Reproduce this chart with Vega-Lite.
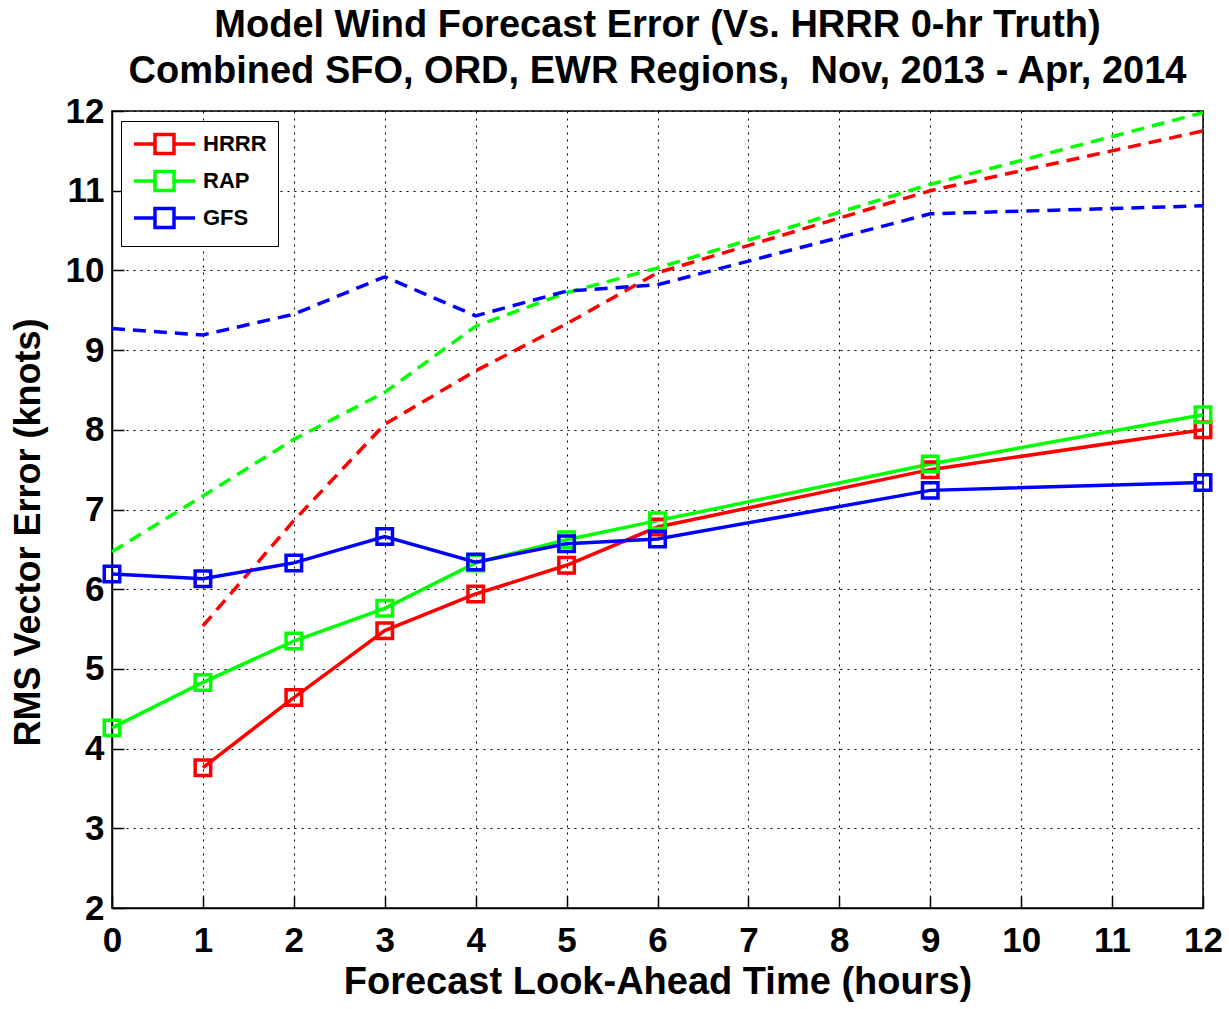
{
  "$schema": "https://vega.github.io/schema/vega-lite/v6.json",
  "width": 1091,
  "height": 797,
  "autosize": {"type": "none"},
  "padding": {"left": 112, "top": 111, "right": 26, "bottom": 101},
  "background": "white",
  "title": {
    "text": ["Model Wind Forecast Error (Vs. HRRR 0-hr Truth)", "Combined SFO, ORD, EWR Regions,\u00a0 Nov, 2013 - Apr, 2014"],
    "font": "Liberation Sans",
    "fontSize": 38,
    "fontWeight": "bold",
    "lineHeight": 46,
    "color": "black",
    "anchor": "middle",
    "offset": 3
  },
  "config": {
    "view": {"stroke": "black", "strokeWidth": 1.5},
    "axis": {
      "labelFont": "Liberation Sans",
      "titleFont": "Liberation Sans",
      "labelFontSize": 35,
      "labelFontWeight": "bold",
      "titleFontSize": 36,
      "titleFontWeight": "bold",
      "labelColor": "black",
      "titleColor": "black",
      "domainColor": "black",
      "domainWidth": 1.5,
      "tickColor": "black",
      "tickWidth": 1.5,
      "tickSize": -12,
      "gridColor": "black",
      "gridDash": [2, 5],
      "gridWidth": 1,
      "gridOpacity": 1
    },
    "legend": {
      "labelFont": "Liberation Sans",
      "labelFontSize": 22,
      "labelFontWeight": "bold",
      "labelColor": "black"
    }
  },
  "data": {
    "values": [
      {"model": "HRRR", "kind": "solid", "hour": 1, "rmse": 3.76},
      {"model": "HRRR", "kind": "solid", "hour": 2, "rmse": 4.64},
      {"model": "HRRR", "kind": "solid", "hour": 3, "rmse": 5.48},
      {"model": "HRRR", "kind": "solid", "hour": 4, "rmse": 5.94},
      {"model": "HRRR", "kind": "solid", "hour": 5, "rmse": 6.30},
      {"model": "HRRR", "kind": "solid", "hour": 6, "rmse": 6.78},
      {"model": "HRRR", "kind": "solid", "hour": 9, "rmse": 7.50},
      {"model": "HRRR", "kind": "solid", "hour": 12, "rmse": 8.00},
      {"model": "RAP", "kind": "solid", "hour": 0, "rmse": 4.26},
      {"model": "RAP", "kind": "solid", "hour": 1, "rmse": 4.83},
      {"model": "RAP", "kind": "solid", "hour": 2, "rmse": 5.35},
      {"model": "RAP", "kind": "solid", "hour": 3, "rmse": 5.76},
      {"model": "RAP", "kind": "solid", "hour": 4, "rmse": 6.33},
      {"model": "RAP", "kind": "solid", "hour": 5, "rmse": 6.62},
      {"model": "RAP", "kind": "solid", "hour": 6, "rmse": 6.86},
      {"model": "RAP", "kind": "solid", "hour": 9, "rmse": 7.57},
      {"model": "RAP", "kind": "solid", "hour": 12, "rmse": 8.19},
      {"model": "GFS", "kind": "solid", "hour": 0, "rmse": 6.19},
      {"model": "GFS", "kind": "solid", "hour": 1, "rmse": 6.13},
      {"model": "GFS", "kind": "solid", "hour": 2, "rmse": 6.33},
      {"model": "GFS", "kind": "solid", "hour": 3, "rmse": 6.66},
      {"model": "GFS", "kind": "solid", "hour": 4, "rmse": 6.34},
      {"model": "GFS", "kind": "solid", "hour": 5, "rmse": 6.57},
      {"model": "GFS", "kind": "solid", "hour": 6, "rmse": 6.63},
      {"model": "GFS", "kind": "solid", "hour": 9, "rmse": 7.24},
      {"model": "GFS", "kind": "solid", "hour": 12, "rmse": 7.34},
      {"model": "HRRR", "kind": "dashed", "hour": 1, "rmse": 5.54},
      {"model": "HRRR", "kind": "dashed", "hour": 2, "rmse": 6.86},
      {"model": "HRRR", "kind": "dashed", "hour": 3, "rmse": 8.07},
      {"model": "HRRR", "kind": "dashed", "hour": 4, "rmse": 8.74},
      {"model": "HRRR", "kind": "dashed", "hour": 5, "rmse": 9.33},
      {"model": "HRRR", "kind": "dashed", "hour": 6, "rmse": 9.97},
      {"model": "HRRR", "kind": "dashed", "hour": 9, "rmse": 11.00},
      {"model": "HRRR", "kind": "dashed", "hour": 12, "rmse": 11.75},
      {"model": "RAP", "kind": "dashed", "hour": 0, "rmse": 6.47},
      {"model": "RAP", "kind": "dashed", "hour": 1, "rmse": 7.17},
      {"model": "RAP", "kind": "dashed", "hour": 2, "rmse": 7.88},
      {"model": "RAP", "kind": "dashed", "hour": 3, "rmse": 8.47},
      {"model": "RAP", "kind": "dashed", "hour": 4, "rmse": 9.30},
      {"model": "RAP", "kind": "dashed", "hour": 5, "rmse": 9.72},
      {"model": "RAP", "kind": "dashed", "hour": 6, "rmse": 10.03},
      {"model": "RAP", "kind": "dashed", "hour": 9, "rmse": 11.08},
      {"model": "RAP", "kind": "dashed", "hour": 12, "rmse": 11.98},
      {"model": "GFS", "kind": "dashed", "hour": 0, "rmse": 9.27},
      {"model": "GFS", "kind": "dashed", "hour": 1, "rmse": 9.19},
      {"model": "GFS", "kind": "dashed", "hour": 2, "rmse": 9.45},
      {"model": "GFS", "kind": "dashed", "hour": 3, "rmse": 9.92},
      {"model": "GFS", "kind": "dashed", "hour": 4, "rmse": 9.43},
      {"model": "GFS", "kind": "dashed", "hour": 5, "rmse": 9.74},
      {"model": "GFS", "kind": "dashed", "hour": 6, "rmse": 9.82},
      {"model": "GFS", "kind": "dashed", "hour": 9, "rmse": 10.71},
      {"model": "GFS", "kind": "dashed", "hour": 12, "rmse": 10.81}
    ]
  },
  "encoding": {
    "x": {
      "field": "hour", "type": "quantitative",
      "scale": {"domain": [0, 12], "nice": false, "zero": false},
      "axis": {"values": [0,1,2,3,4,5,6,7,8,9,10,11,12], "format": "d", "title": "Forecast Look-Ahead Time (hours)", "titleFontSize": 38, "labelPadding": 27, "titlePadding": 5, "grid": true, "labelFlush": false}
    },
    "y": {
      "field": "rmse", "type": "quantitative",
      "scale": {"domain": [2, 12], "nice": false, "zero": false},
      "axis": {"values": [2,3,4,5,6,7,8,9,10,11,12], "format": "d", "title": "RMS Vector Error (knots)", "labelPadding": 20, "titlePadding": 18, "titleY": 421, "grid": true, "labelFlush": false}
    },
    "color": {
      "field": "model", "type": "nominal",
      "scale": {"domain": ["HRRR", "RAP", "GFS"], "range": ["#ff0000", "#00ff00", "#0000ff"]},
      "legend": {
        "title": null,
        "orient": "none",
        "legendX": 9,
        "legendY": 10,
        "strokeColor": "black",
        "fillColor": "white",
        "padding": 11,
        "symbolType": "M-1,0H1.1M3,0H5.1M1.1,-0.95H3V0.95H1.1Z",
        "symbolSize": 400,
        "symbolStrokeWidth": 3.5,
        "symbolFillColor": "transparent",
        "labelOffset": 47,
        "rowPadding": 3
      }
    }
  },
  "layer": [
    {
      "transform": [{"filter": "datum.kind === 'dashed'"}],
      "mark": {"type": "line", "strokeWidth": 3.5, "strokeDash": [13, 8]},
      "encoding": {"detail": {"field": "model"}}
    },
    {
      "transform": [{"filter": "datum.kind === 'solid'"}],
      "mark": {"type": "line", "strokeWidth": 3.5, "point": {"filled": false, "shape": "square", "size": 240, "strokeWidth": 3.5, "fill": "transparent"}}
    }
  ]
}
